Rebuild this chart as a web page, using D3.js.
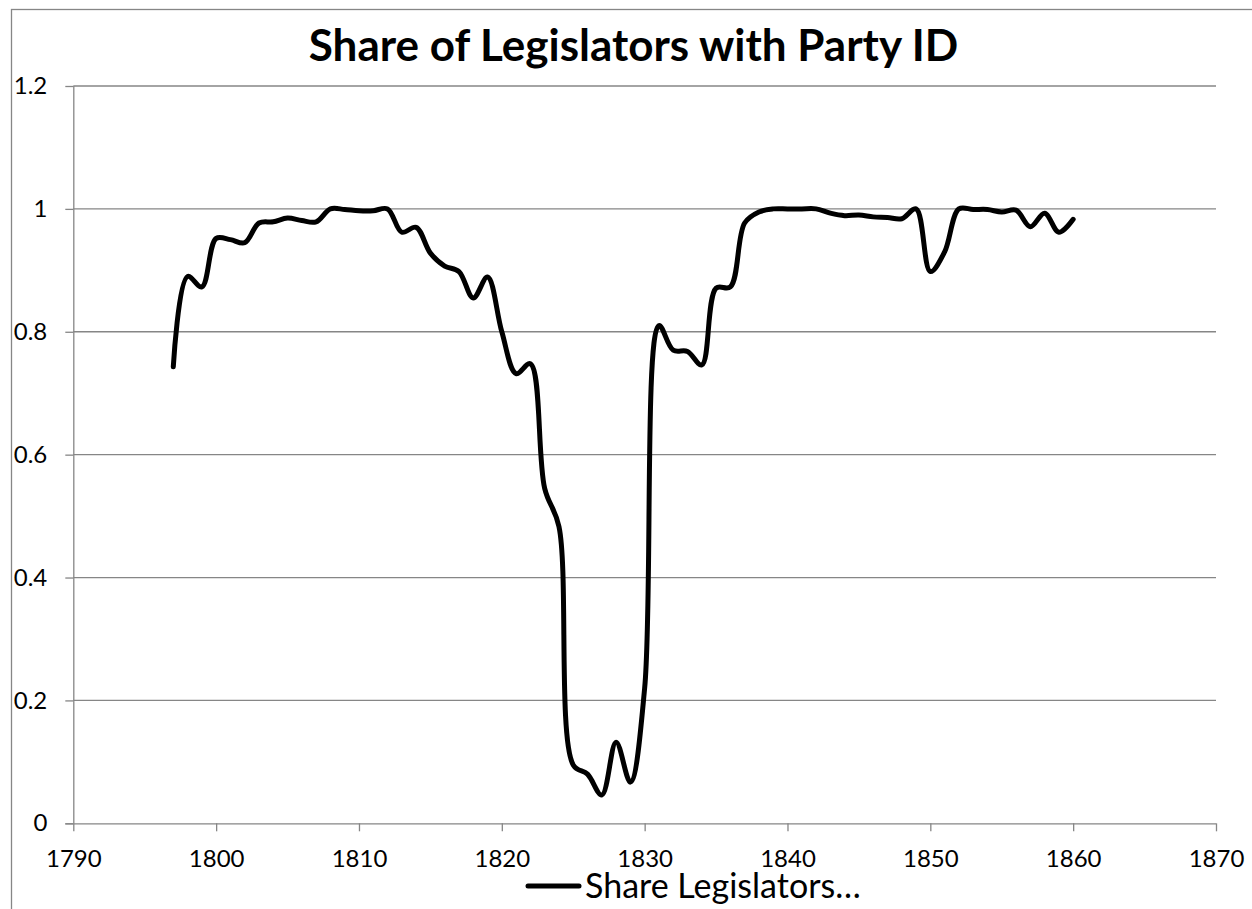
<!DOCTYPE html>
<html>
<head>
<meta charset="utf-8">
<script src="https://cdn.jsdelivr.net/npm/d3@7"></script>
<style>
  body { margin: 0; background: #fff; }
  svg { display: block; }
</style>
</head>
<body>
<svg id="chart"></svg>
<script>
// --- Data ---
const years = [
  1797, 1798, 1799, 1800, 1801, 1802, 1803, 1804, 1805, 1806,
  1807, 1808, 1809, 1810, 1811, 1812, 1813, 1814, 1815, 1816,
  1817, 1818, 1819, 1820, 1821, 1822, 1823, 1824, 1825, 1826,
  1827, 1828, 1829, 1830, 1831, 1832, 1833, 1834, 1835, 1836,
  1837, 1838, 1839, 1840, 1841, 1842, 1843, 1844, 1845, 1846,
  1847, 1848, 1849, 1850, 1851, 1852, 1853, 1854, 1855, 1856,
  1857, 1858, 1859, 1860
];
const shareValues = [
  0.743, 0.89, 0.873, 0.952, 0.95, 0.945, 0.977, 0.979, 0.985, 0.981,
  0.979, 1.0, 0.999, 0.997, 0.997, 1.0, 0.962, 0.97, 0.928, 0.907,
  0.898, 0.855, 0.889, 0.80, 0.732, 0.748, 0.545, 0.483, 0.095, 0.08,
  0.046, 0.132, 0.067, 0.22, 0.81, 0.77, 0.768, 0.746, 0.871, 0.873,
  0.977, 0.995, 1.0, 1.0, 1.0, 1.0, 0.993, 0.989, 0.99, 0.987,
  0.986, 0.984, 1.0, 0.898, 0.93, 1.0, 0.999, 0.999, 0.995, 0.998,
  0.971, 0.993, 0.962, 0.983
];
const xTicks = [1790, 1800, 1810, 1820, 1830, 1840, 1850, 1860, 1870];
const yTicks = [0, 0.2, 0.4, 0.6, 0.8, 1, 1.2];
const title = "Share of Legislators with Party ID";
const legendLabel = "Share Legislators\u2026";

const width = 1252, height = 909;
const fontFamily = "Lato, 'Open Sans', sans-serif";
const gray = "#868686";

const svg = d3.select("#chart").attr("width", width).attr("height", height);

// outer chart frame
svg.append("rect")
  .attr("x", 11.5).attr("y", 9.5)
  .attr("width", width + 20).attr("height", height + 20)
  .attr("fill", "none")
  .attr("stroke", gray)
  .attr("stroke-width", 1.3);

// --- Scales ---
const x = d3.scaleLinear().domain([1790, 1870]).range([73.3, 1216]);
const y = d3.scaleLinear().domain([0, 1.2]).range([823.3, 86]);

// gridlines
svg.append("g")
  .selectAll("line")
  .data(yTicks.filter(d => d > 0))
  .join("line")
  .attr("x1", x(1790)).attr("x2", x(1870))
  .attr("y1", d => y(d)).attr("y2", d => y(d))
  .attr("stroke", gray)
  .attr("stroke-width", 1.3);

// --- Axes ---
const yAxis = svg.append("g")
  .attr("transform", `translate(${x(1790)},0)`)
  .call(d3.axisLeft(y).tickValues(yTicks).tickSize(8).tickPadding(18)
    .tickFormat(d => d3.format("")(+d.toFixed(1))));

const xAxis = svg.append("g")
  .attr("transform", `translate(0,${y(0)})`)
  .call(d3.axisBottom(x).tickValues(xTicks).tickSize(8).tickPadding(19)
    .tickFormat(d3.format("d")));

[yAxis, xAxis].forEach(g => {
  g.select(".domain").attr("stroke", gray).attr("stroke-width", 1.3);
  g.selectAll(".tick line").attr("stroke", gray).attr("stroke-width", 1.3);
  g.selectAll(".tick text")
    .attr("fill", "#000")
    .style("font-family", fontFamily)
    .style("font-size", "24px");
});
// x-axis line runs left under the 0 tick
xAxis.select(".domain").attr("d", `M${x(1790) - 8},0.5H${x(1870)}`);
yAxis.select(".domain").attr("d", `M0.5,${y(1.2)}V${y(0)}`);

// --- Line ---
const points = years.map((yr, i) => ({ year: yr, value: shareValues[i] }));
const line = d3.line()
  .x(d => x(d.year))
  .y(d => y(d.value))
  .curve(d3.curveCatmullRom.alpha(0.5));

svg.append("path")
  .datum(points)
  .attr("d", line)
  .attr("fill", "none")
  .attr("stroke", "#000")
  .attr("stroke-width", 5)
  .attr("stroke-linejoin", "round")
  .attr("stroke-linecap", "round");

// --- Title ---
svg.append("text")
  .attr("x", 633.5).attr("y", 61)
  .attr("text-anchor", "middle")
  .style("font-family", fontFamily)
  .style("font-weight", "bold")
  .style("font-size", "44px")
  .text(title);

// --- Legend ---
const legend = svg.append("g");
legend.append("line")
  .attr("x1", 528).attr("x2", 579)
  .attr("y1", 886).attr("y2", 886)
  .attr("stroke", "#000")
  .attr("stroke-width", 5)
  .attr("stroke-linecap", "round");
legend.append("text")
  .attr("x", 585).attr("y", 898)
  .style("font-family", fontFamily)
  .style("font-size", "34px")
  .text(legendLabel);
</script>
</body>
</html>
